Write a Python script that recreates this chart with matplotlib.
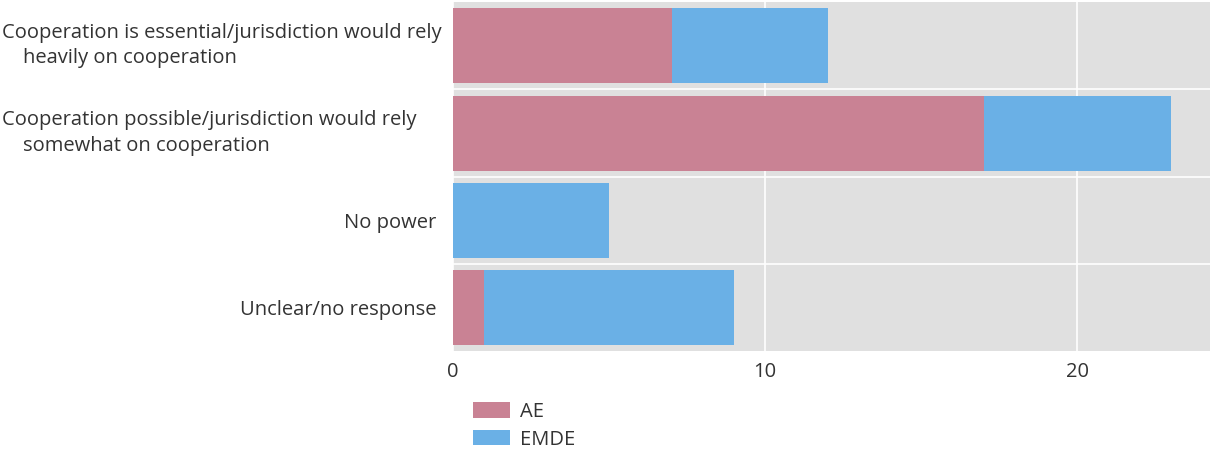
import matplotlib.pyplot as plt
import matplotlib.transforms as mtransforms
import numpy as np

categories = [
    "Cooperation is essential/jurisdiction would rely\n    heavily on cooperation",
    "Cooperation possible/jurisdiction would rely\n    somewhat on cooperation",
    "No power",
    "Unclear/no response",
]
ae_values = [7, 17, 0, 1]
emde_values = [5, 6, 5, 8]
x_ticks = [0, 10, 20]

plt.rcParams['font.family'] = ['Open Sans', 'DejaVu Sans']

fig = plt.figure(figsize=(12.1, 4.5), dpi=100)
ax = fig.add_axes([0.3744, 0.22, 0.6256, 0.775])

y = np.arange(len(categories))
ax.barh(y, ae_values, height=0.86, color='#c98294', label='AE', zorder=3)
ax.barh(y, emde_values, left=ae_values, height=0.86, color='#6ab0e6',
        label='EMDE', zorder=3)

ax.set_facecolor('#e0e0e0')
ax.set_xlim(0, 24.25)
ax.set_ylim(len(categories) - 0.5, -0.5)
ax.set_xticks(x_ticks)
ax.set_yticks(y)
# long two-line labels sit flush left, short ones flush right
ax.set_yticklabels(['' if '\n' in c else c for c in categories])
ax.set_yticks(np.arange(len(categories) - 1) + 0.5, minor=True)
ax.grid(axis='x', which='major', color='white', linewidth=1.2, zorder=1)
ax.grid(axis='y', which='minor', color='white', linewidth=1.2, zorder=1)
ax.tick_params(axis='both', which='both', length=0, labelsize=14.5,
               colors='#333333')
ax.tick_params(axis='x', pad=8)
ax.tick_params(axis='y', pad=12)
for s in ax.spines.values():
    s.set_visible(False)

trans = mtransforms.blended_transform_factory(fig.transFigure, ax.transData)
for i, c in enumerate(categories):
    if '\n' in c:
        ax.text(0.002, i, c, transform=trans, ha='left', va='center',
                fontsize=14.5, color='#333333', linespacing=1.35)

fig.legend(loc='upper left', bbox_to_anchor=(0.391, 0.107), frameon=False,
           fontsize=14.5, handlelength=1.85, handleheight=0.8,
           labelspacing=0.38, handletextpad=0.5, borderaxespad=0,
           borderpad=0, labelcolor='#333333')

fig.savefig('out.png', dpi=100)
